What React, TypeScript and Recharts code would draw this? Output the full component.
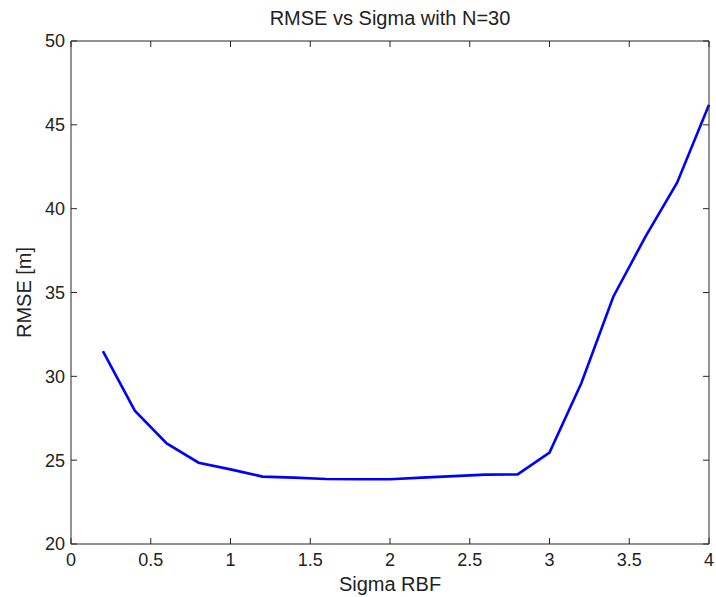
import React from 'react'
import { LineChart, Line, XAxis, YAxis, Label } from 'recharts'

// Sigma RBF sweep and the RMSE
const sigmaValues = [0.2, 0.4, 0.6, 0.8, 1.0, 1.2, 1.4, 1.6, 1.8, 2.0, 2.2, 2.4, 2.6, 2.8, 3.0, 3.2, 3.4, 3.6, 3.8, 4.0]
const rmseValues = [31.5, 27.95, 26.0, 24.85, 24.45, 24.02, 23.96, 23.88, 23.86, 23.86, 23.96, 24.05, 24.14, 24.15, 25.45, 29.6, 34.75, 38.3, 41.55, 46.2]

const xTicks = [0, 0.5, 1, 1.5, 2, 2.5, 3, 3.5, 4]
const yTicks = [20, 25, 30, 35, 40, 45, 50]

const data = sigmaValues.map((sigma, i) => ({ sigma, rmse: rmseValues[i] }))

const FONT = '"Liberation Sans", Arial, sans-serif'
const AXIS = '#262626'
const TICK_LEN = 6

const BottomTick = ({ x, y, payload }: any) => (
  <g>
    <line x1={x} x2={x} y1={y} y2={y - TICK_LEN} stroke={AXIS} />
    <text x={x} y={y + 22} textAnchor="middle" fontSize={18} fontFamily={FONT} fill="#222">
      {payload.value}
    </text>
  </g>
)

const TopTick = ({ x, y }: any) => <line x1={x} x2={x} y1={y} y2={y + TICK_LEN} stroke={AXIS} />

const LeftTick = ({ x, y, payload }: any) => (
  <g>
    <line x1={x} x2={x + TICK_LEN} y1={y} y2={y} stroke={AXIS} />
    <text x={x - 6} y={y} dy="0.36em" textAnchor="end" fontSize={18} fontFamily={FONT} fill="#222">
      {payload.value}
    </text>
  </g>
)

const RightTick = ({ x, y }: any) => <line x1={x} x2={x - TICK_LEN} y1={y} y2={y} stroke={AXIS} />

export default function App() {
  return (
    <div style={{ position: 'absolute', left: 0, top: 0, width: 716, height: 597, background: '#fff' }}>
      <LineChart width={716} height={597} data={data} margin={{ top: 40, right: 6, bottom: 23, left: 21 }}>
        <XAxis
          dataKey="sigma"
          type="number"
          domain={[0, 4]}
          ticks={xTicks}
          height={30}
          tickSize={0}
          tickMargin={0}
          tickLine={false}
          tick={BottomTick}
          axisLine={{ stroke: AXIS }}
        >
          <Label
            content={({ viewBox }: any) => (
              <text x={viewBox.x + viewBox.width / 2} y={591} textAnchor="middle" fontSize={20} fontFamily={FONT} fill="#222">
                Sigma RBF
              </text>
            )}
          />
        </XAxis>
        <XAxis
          xAxisId="top"
          orientation="top"
          dataKey="sigma"
          type="number"
          domain={[0, 4]}
          ticks={xTicks}
          height={1}
          tickSize={0}
          tickMargin={0}
          tickLine={false}
          tick={TopTick}
          axisLine={{ stroke: AXIS }}
        >
          <Label
            content={({ viewBox }: any) => (
              <text x={viewBox.x + viewBox.width / 2} y={25} textAnchor="middle" fontSize={20} fontFamily={FONT} fill="#222">
                RMSE vs Sigma with N=30
              </text>
            )}
          />
        </XAxis>
        <YAxis
          type="number"
          domain={[20, 50]}
          ticks={yTicks}
          width={50}
          tickSize={0}
          tickMargin={0}
          tickLine={false}
          tick={LeftTick}
          axisLine={{ stroke: AXIS }}
        >
          <Label
            content={({ viewBox }: any) => {
              const cy = viewBox.y + viewBox.height / 2
              return (
                <text x={31} y={cy} textAnchor="middle" fontSize={20} fontFamily={FONT} fill="#222" transform={`rotate(-90, 31, ${cy})`}>
                  RMSE [m]
                </text>
              )
            }}
          />
        </YAxis>
        <YAxis
          yAxisId="right"
          orientation="right"
          type="number"
          domain={[20, 50]}
          ticks={yTicks}
          width={1}
          tickSize={0}
          tickMargin={0}
          tickLine={false}
          tick={RightTick}
          axisLine={{ stroke: AXIS }}
        />
        {/* invisible twin so the top / right box axes get drawn */}
        <Line
          xAxisId="top"
          yAxisId="right"
          dataKey="rmse"
          type="linear"
          stroke="none"
          dot={false}
          activeDot={false}
          isAnimationActive={false}
        />
        <Line
          dataKey="rmse"
          type="linear"
          stroke="#0000ff"
          strokeWidth={2.6}
          dot={false}
          activeDot={false}
          isAnimationActive={false}
        />
      </LineChart>
    </div>
  )
}
